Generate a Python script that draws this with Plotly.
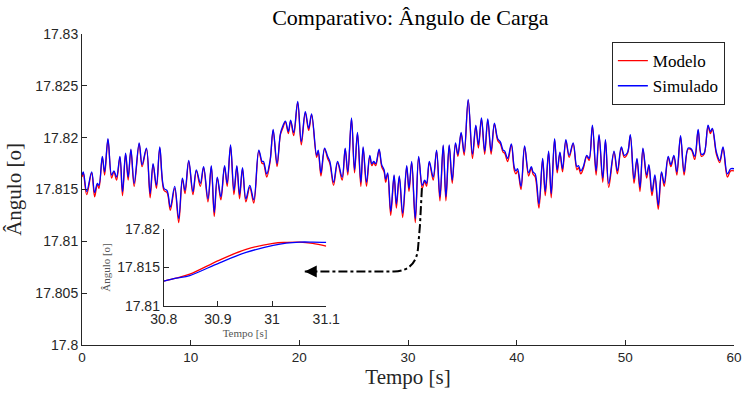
import plotly.graph_objects as go

# ---------------- data ----------------
tempo = [0.00, 0.12, 0.43, 0.89, 1.16, 1.41, 1.56, 1.87, 2.08, 2.39, 2.72, 2.94, 3.18, 3.49, 3.73, 4.01,
         4.25, 4.50, 4.80, 5.26, 5.53, 5.93, 6.27, 6.54, 6.85, 7.16, 7.55, 7.83, 8.13, 8.53, 8.90, 9.24,
         9.48, 9.82, 10.21, 10.52, 10.89, 11.19, 11.59, 11.90, 12.17, 12.45, 12.78, 13.12, 13.36, 13.67,
         13.98, 14.25, 14.50, 14.77, 15.08, 15.44, 15.81, 16.27, 16.58, 16.70, 17.00, 17.31, 17.59, 17.95,
         18.26, 18.47, 18.72, 18.99, 19.20, 19.48, 19.85, 20.18, 20.55, 20.86, 21.13, 21.59, 21.74, 21.99,
         22.32, 22.60, 22.81, 23.15, 23.52, 23.94, 24.22, 24.46, 24.80, 25.08, 25.35, 25.66, 25.87, 26.18,
         26.48, 26.67, 26.85, 27.03, 27.34, 27.58, 27.80, 27.95, 28.13, 28.41, 28.72, 28.93, 29.20, 29.51,
         29.88, 30.09, 30.34, 30.67, 30.98, 31.31, 31.53, 31.71, 31.96, 32.32, 32.63, 32.94, 33.24, 33.49,
         33.79, 34.07, 34.37, 34.59, 34.89, 35.17, 35.54, 35.93, 36.24, 36.48, 36.76, 37.06, 37.34, 37.65,
         37.95, 38.26, 38.50, 38.75, 38.90, 39.17, 39.51, 39.79, 39.94, 40.09, 40.40, 40.73, 41.10, 41.35,
         41.50, 41.71, 42.05, 42.39, 42.63, 42.94, 43.18, 43.49, 43.73, 43.98, 44.22, 44.53, 44.83, 45.20,
         45.54, 45.69, 45.90, 46.13, 46.45, 46.67, 46.97, 47.31, 47.58, 47.92, 48.17, 48.47, 48.96, 49.27,
         49.63, 49.91, 50.21, 50.46, 50.80, 51.07, 51.35, 51.62, 51.96, 52.17, 52.45, 52.72, 53.03, 53.33,
         53.58, 53.94, 54.19, 54.47, 54.74, 55.08, 55.41, 55.78, 56.08, 56.39, 56.70, 57.00, 57.25, 57.61,
         57.82, 58.01, 58.38, 58.69, 58.99, 59.39, 59.69, 60.00]

simulado = [17.8164, 17.8167, 17.8148, 17.8167, 17.8147, 17.8156, 17.8154, 17.8182, 17.8167, 17.8199,
            17.8164, 17.8168, 17.8162, 17.8182, 17.8148, 17.8185, 17.8162, 17.8189, 17.8156, 17.8195,
            17.8174, 17.8190, 17.8146, 17.8175, 17.8154, 17.8191, 17.8151, 17.8149, 17.8133, 17.8153,
            17.8122, 17.8161, 17.8149, 17.8178, 17.8148, 17.8169, 17.8156, 17.8172, 17.8141, 17.8173,
            17.8128, 17.8162, 17.8143, 17.8173, 17.8156, 17.8193, 17.8149, 17.8173, 17.8145, 17.8171,
            17.8141, 17.8154, 17.8140, 17.8188, 17.8177, 17.8177, 17.8165, 17.8178, 17.8208, 17.8175,
            17.8204, 17.8211, 17.8216, 17.8206, 17.8217, 17.8205, 17.8235, 17.8196, 17.8225, 17.8209,
            17.8223, 17.8183, 17.8188, 17.8166, 17.8190, 17.8182, 17.8177, 17.8157, 17.8177, 17.8162,
            17.8190, 17.8167, 17.8219, 17.8169, 17.8205, 17.8157, 17.8191, 17.8157, 17.8183, 17.8175,
            17.8177, 17.8175, 17.8189, 17.8174, 17.8169, 17.8160, 17.8166, 17.8129, 17.8164, 17.8136,
            17.8163, 17.8127, 17.8173, 17.8151, 17.8177, 17.8122, 17.8182, 17.8154, 17.8159, 17.8156,
            17.8177, 17.8162, 17.8188, 17.8143, 17.8193, 17.8143, 17.8193, 17.8159, 17.8195, 17.8184,
            17.8205, 17.8186, 17.8237, 17.8184, 17.8212, 17.8193, 17.8219, 17.8187, 17.8218, 17.8187,
            17.8214, 17.8199, 17.8196, 17.8188, 17.8187, 17.8180, 17.8194, 17.8171, 17.8168, 17.8170,
            17.8153, 17.8192, 17.8166, 17.8172, 17.8167, 17.8165, 17.8136, 17.8180, 17.8148, 17.8187,
            17.8146, 17.8199, 17.8169, 17.8186, 17.8170, 17.8198, 17.8183, 17.8195, 17.8172, 17.8173,
            17.8168, 17.8172, 17.8183, 17.8180, 17.8212, 17.8168, 17.8203, 17.8161, 17.8198, 17.8156,
            17.8187, 17.8168, 17.8191, 17.8183, 17.8186, 17.8203, 17.8160, 17.8180, 17.8152, 17.8190,
            17.8164, 17.8174, 17.8148, 17.8164, 17.8135, 17.8167, 17.8156, 17.8182, 17.8174, 17.8183,
            17.8167, 17.8202, 17.8167, 17.8190, 17.8189, 17.8182, 17.8208, 17.8184, 17.8185, 17.8212,
            17.8206, 17.8209, 17.8186, 17.8178, 17.8191, 17.8165, 17.8170, 17.8170]

modelo = [17.8162, 17.8166, 17.8145, 17.8166, 17.8143, 17.8155, 17.8151, 17.8181, 17.8164, 17.8198,
          17.8161, 17.8167, 17.8159, 17.8181, 17.8144, 17.8184, 17.8159, 17.8188, 17.8153, 17.8194,
          17.8172, 17.8189, 17.8142, 17.8174, 17.8151, 17.8190, 17.8149, 17.8147, 17.8130, 17.8151,
          17.8118, 17.8160, 17.8146, 17.8177, 17.8145, 17.8168, 17.8153, 17.8171, 17.8138, 17.8172,
          17.8124, 17.8161, 17.8140, 17.8172, 17.8153, 17.8192, 17.8145, 17.8172, 17.8141, 17.8170,
          17.8138, 17.8152, 17.8137, 17.8187, 17.8175, 17.8175, 17.8162, 17.8177, 17.8207, 17.8172,
          17.8203, 17.8209, 17.8215, 17.8204, 17.8216, 17.8202, 17.8234, 17.8193, 17.8224, 17.8207,
          17.8222, 17.8181, 17.8186, 17.8163, 17.8189, 17.8180, 17.8175, 17.8154, 17.8176, 17.8159,
          17.8189, 17.8164, 17.8218, 17.8166, 17.8204, 17.8153, 17.8190, 17.8153, 17.8182, 17.8173,
          17.8176, 17.8173, 17.8188, 17.8172, 17.8167, 17.8157, 17.8165, 17.8125, 17.8163, 17.8132,
          17.8162, 17.8123, 17.8172, 17.8148, 17.8176, 17.8118, 17.8181, 17.8151, 17.8158, 17.8153,
          17.8176, 17.8159, 17.8187, 17.8139, 17.8192, 17.8139, 17.8192, 17.8156, 17.8194, 17.8182,
          17.8204, 17.8183, 17.8236, 17.8180, 17.8211, 17.8190, 17.8218, 17.8184, 17.8217, 17.8184,
          17.8213, 17.8197, 17.8194, 17.8186, 17.8185, 17.8177, 17.8193, 17.8168, 17.8165, 17.8168,
          17.8150, 17.8191, 17.8163, 17.8171, 17.8165, 17.8162, 17.8132, 17.8179, 17.8144, 17.8186,
          17.8142, 17.8198, 17.8166, 17.8185, 17.8167, 17.8197, 17.8181, 17.8194, 17.8169, 17.8171,
          17.8165, 17.8170, 17.8182, 17.8178, 17.8211, 17.8164, 17.8202, 17.8157, 17.8197, 17.8152,
          17.8186, 17.8165, 17.8190, 17.8181, 17.8185, 17.8202, 17.8156, 17.8179, 17.8148, 17.8189,
          17.8161, 17.8173, 17.8144, 17.8162, 17.8131, 17.8166, 17.8153, 17.8181, 17.8172, 17.8182,
          17.8164, 17.8201, 17.8164, 17.8189, 17.8188, 17.8179, 17.8207, 17.8182, 17.8184, 17.8211,
          17.8204, 17.8208, 17.8184, 17.8176, 17.8190, 17.8162, 17.8168, 17.8168]

# inset (zoom 30.8 s - 31.1 s)
tempo_zoom = [30.800, 30.823, 30.848, 30.903, 30.952, 31.002, 31.026, 31.051, 31.075, 31.100]
simulado_zoom = [17.81322, 17.81361, 17.81396, 17.81561, 17.81696, 17.81787, 17.81817, 17.81830, 17.81830, 17.81826]
modelo_zoom = [17.81322, 17.81361, 17.81413, 17.81596, 17.81735, 17.81813, 17.81826, 17.81830, 17.81813, 17.81778]

# tick labels
y_ticks = [17.80, 17.805, 17.81, 17.815, 17.82, 17.825, 17.83]
y_ticklabels = ["17.8", "17.805", "17.81", "17.815", "17.82", "17.825", "17.83"]
x_ticks = [0, 10, 20, 30, 40, 50, 60]
yz_ticks = [17.81, 17.815, 17.82]
yz_ticklabels = ["17.81", "17.815", "17.82"]
xz_ticks = [30.8, 30.9, 31.0, 31.1]
xz_ticklabels = ["30.8", "30.9", "31", "31.1"]

# annotation arrow path (main-axes data units)
arrow_t = [31.28, 31.10, 30.92, 30.73, 28.72, 20.5]
arrow_v = [17.81513, 17.81154, 17.80931, 17.80718, 17.80708, 17.80708]

# ---------------- figure ----------------
SERIF = "Liberation Serif, Times New Roman, serif"
SANS = "Liberation Sans, Arial, Helvetica, sans-serif"
AX = "#262626"

fig = go.Figure()
fig.add_trace(go.Scatter(x=tempo, y=modelo, name="Modelo", mode="lines",
                         line=dict(color="#ff0000", width=1.3, shape="spline", smoothing=1.0)))
fig.add_trace(go.Scatter(x=tempo, y=simulado, name="Simulado", mode="lines",
                         line=dict(color="#0000ff", width=1.3, shape="spline", smoothing=1.0)))
fig.add_trace(go.Scatter(x=tempo_zoom, y=modelo_zoom, mode="lines", showlegend=False,
                         xaxis="x2", yaxis="y2",
                         line=dict(color="#ff0000", width=1.3, shape="spline")))
fig.add_trace(go.Scatter(x=tempo_zoom, y=simulado_zoom, mode="lines", showlegend=False,
                         xaxis="x2", yaxis="y2",
                         line=dict(color="#0000ff", width=1.3, shape="spline")))

axis_common = dict(showgrid=False, zeroline=False, showline=True, linecolor=AX, linewidth=1,
                   ticks="inside", ticklen=5, tickcolor=AX, tickwidth=1, mirror=False,
                   automargin=False,
                   tickfont=dict(family=SANS, size=14, color=AX))

path = "M {} {} L {} {} L {} {} Q {} {} {} {} L {} {}".format(
    arrow_t[0], arrow_v[0], arrow_t[1], arrow_v[1], arrow_t[2], arrow_v[2],
    arrow_t[3], arrow_v[3], arrow_t[4], arrow_v[4], arrow_t[5], arrow_v[5])

fig.update_layout(
    width=742, height=393,
    margin=dict(l=82, r=8, t=34, b=48, autoexpand=False),
    paper_bgcolor="white", plot_bgcolor="white",
    title=dict(text="Comparativo: Ângulo de Carga", x=0.553, xanchor="center",
               y=0.955, yanchor="middle", yref="container",
               font=dict(family=SERIF, size=22, color="black")),
    xaxis=dict(axis_common, range=[0, 60], tickvals=x_ticks, domain=[0, 1],
               tickfont=dict(family=SANS, size=13.5, color=AX), ticklabeloverflow="allow",
               title=dict(text="Tempo [s]", font=dict(family=SERIF, size=21, color=AX), standoff=4)),
    yaxis=dict(axis_common, range=[17.80, 17.83], tickvals=y_ticks, ticktext=y_ticklabels,
               title=dict(text="Ângulo [o]", font=dict(family=SERIF, size=21, color=AX), standoff=8)),
    xaxis2=dict(axis_common, range=[30.8, 31.1], tickvals=xz_ticks, ticktext=xz_ticklabels,
                domain=[0.1254, 0.3746], anchor="y2",
                title=dict(text="Tempo [s]", font=dict(family=SERIF, size=11, color="#555555"), standoff=2)),
    yaxis2=dict(axis_common, range=[17.81, 17.82], tickvals=yz_ticks, ticktext=yz_ticklabels,
                domain=[0.1254, 0.373], anchor="x2",
                title=dict(text="Ângulo [o]", font=dict(family=SERIF, size=11, color="#555555"), standoff=4)),
    legend=dict(x=0.986, y=0.974, xanchor="right", yanchor="top",
                bgcolor="white", bordercolor="#262626", borderwidth=1,
                font=dict(family=SERIF, size=17, color="black"),
                itemwidth=30, tracegroupgap=0),
    shapes=[dict(type="path", path=path, xref="x", yref="y",
                 line=dict(color="black", width=2, dash="dashdot"), layer="above")],
    annotations=[dict(x=arrow_t[5], y=arrow_v[5], ax=arrow_t[5] + 1.0, ay=arrow_v[5],
                      xref="x", yref="y", axref="x", ayref="y", text="", showarrow=True,
                      arrowhead=2, arrowsize=1.2, arrowwidth=2, arrowcolor="black")],
)

fig.write_html("out.html")
